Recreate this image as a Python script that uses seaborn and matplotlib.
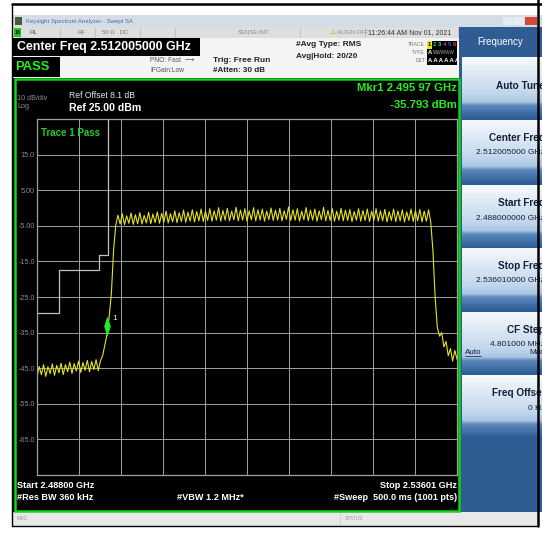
import numpy as np
import pandas as pd
import matplotlib
import matplotlib.pyplot as plt
from matplotlib.colors import LinearSegmentedColormap
from matplotlib.patches import Rectangle
from matplotlib.path import Path
import seaborn as sns

matplotlib.use('Agg')

# ===========================================================
# DATA
# ===========================================================
F_START, F_STOP = 2.48800, 2.53601      # GHz
REF_LEVEL, DB_DIV = 25.0, 10.0
Y_LABELS = ["15.0", "5.00", "-5.00", "-15.0", "-25.0", "-35.0", "-45.0", "-55.0", "-65.0"]

# trace 1 (dBm), sweep points evenly spaced from start to stop
lo_noise_db = [-47.5, -44.5, -46.8, -44.0, -47.3, -44.6, -46.5, -43.8, -47.0, -44.2,
               -46.3, -43.6, -46.8, -44.0, -46.0, -43.3, -46.5, -43.7, -45.8, -43.0,
               -46.2, -43.4, -45.6, -42.8, -46.0, -43.1, -45.4, -42.6, -45.7, -42.9]
rise_db = [-41.5, -38.5, -35.5, -30.5, -24.0, -12.0]
band_db = [-4.8, -2.0, -4.5, -1.6, -4.7, -2.2, -4.3, -1.4, -4.6, -1.9,
           -4.4, -1.3, -4.5, -2.1, -4.2, -1.2, -4.4, -1.7, -4.1, -1.1,
           -4.3, -1.5, -4.0, -0.9, -4.2, -1.6, -3.9, -0.8, -4.1, -1.3,
           -3.8, -0.6, -4.0, -1.2, -3.7, -0.5, -3.9, -1.0, -3.6, -0.3,
           -3.8, -0.9, -3.5, -0.2, -3.7, -0.8, -3.4, 0.1, -3.7, -0.7,
           -3.4, -0.1, -3.6, -0.9, -3.3, 0.2, -3.6, -0.6, -3.4, -0.2,
           -3.7, -0.8, -3.3, 0.1, -3.6, -0.5, -3.4, -0.3, -3.7, -0.9,
           -3.3, 0.0, -3.5, -0.6, -3.4, -0.1, -3.6, -0.8, -3.2, 0.3,
           -3.5, -0.5, -3.4, -0.2, -3.7, -0.9, -3.3, 0.1, -3.6, -0.6,
           -3.4, -0.3, -3.7, -0.8, -3.3, 0.2, -3.6, -0.7, -3.5, -0.2,
           -3.7, -0.9, -3.4, -0.1, -3.6, -0.6, -3.5, -0.4, -3.8, -1.0,
           -3.4, -0.2, -3.7, -0.7, -3.5, -0.3, -3.8, -0.9, -3.5, -0.2,
           -3.7, -0.8, -3.6, -0.4, -3.9, -1.0, -3.5, -0.3, -3.8, -0.8,
           -3.6, -0.5, -3.9, -1.1, -3.5, -0.3, -3.8, -0.7, -3.6, -0.4,
           -3.9, -0.9, -3.7, -0.5, -4.0]
fall_db = [-12.0, -25.0, -33.5, -36.0, -35.0, -39.0, -37.5, -41.5, -39.5, -43.0, -40.0, -42.5]

# limit line (stepped)
limit_ghz = [2.48800, 2.49050, 2.49509, 2.49608]
limit_db = [-29.5, -17.4, -13.3, 25.0]

# marker 1
mkr_ghz, mkr_db = 2.49597, -35.793

# softkey panel
softkeys = [("Auto Tune", ""), ("Center Freq", "2.512005000 GHz"), ("Start Freq", "2.488000000 GHz"),
            ("Stop Freq", "2.536010000 GHz"), ("CF Step", "4.801000 MHz"), ("Freq Offset", "0 Hz")]

# ===========================================================
# FIGURE
# ===========================================================
W, H = 542, 536
sns.set_theme(style="dark")
plt.rcParams['font.family'] = ['Liberation Sans', 'DejaVu Sans']

fig = plt.figure(figsize=(W / 100, H / 100), dpi=100)
fig.patch.set_facecolor('white')

bg = fig.add_axes([0, 0, 1, 1])
bg.set_xlim(0, W); bg.set_ylim(H, 0); bg.axis('off')


def rect(x0, y0, x1, y1, color, **kw):
    bg.add_patch(Rectangle((x0, y0), x1 - x0, y1 - y0, facecolor=color, edgecolor='none', **kw))


def txt(x, y, s, **kw):
    kw.setdefault('va', 'center')
    bg.text(x, y, s, **kw)


# title bar
rect(13, 15, 542, 27, '#d3dde8')
rect(15, 17, 22, 25, '#4a5a3a')
txt(26, 21, "Keysight Spectrum Analyzer - Swept SA", fontsize=4.3, color='#4f6b8f')
rect(503, 17, 513, 25, '#e6ecf2'); rect(514, 17, 524, 25, '#e6ecf2'); rect(525, 17, 537, 25, '#d9473a')

# status row
rect(13, 27, 460, 38, '#dedede')
for xs in [60, 95, 140, 175, 300, 365, 458]:
    bg.plot([xs, xs], [28, 37], color='#b5b5b5', lw=0.5)
rect(14, 28, 21, 37, '#1ec81e')
txt(15, 32.5, "1X", fontsize=3.5, color='black', fontweight='bold')
txt(29, 32.5, "RL", fontsize=4.5, color='#555555')
txt(78, 32.5, "RF", fontsize=4.3, color='#777777')
txt(102, 32.5, "50 Ω   DC", fontsize=4.3, color='#777777')
txt(238, 32.5, "SENSE:INT", fontsize=4.3, color='#888888')
txt(330, 32.5, "⚠", fontsize=5, color='#d8a000')
txt(337, 32.5, "ALIGN OFF", fontsize=4.3, color='#888888')
txt(368, 32.5, "11:26:44 AM Nov 01, 2021", fontsize=5.0, color='#333333')

# measurement header
rect(13, 38, 460, 78, '#f4f4f4')
rect(13, 38, 200, 56, 'black')
txt(17, 47, "Center Freq 2.512005000 GHz", fontsize=8.9, color='white', fontweight='bold')
rect(13, 57, 60, 77, 'black')
txt(15, 67, "PASS", fontsize=9.4, color='#22ee22', fontweight='bold')
txt(150, 61, "PNO: Fast  ⟶", fontsize=4.8, color='#555555')
txt(150, 71, "IFGain:Low", fontsize=4.8, color='#555555')
txt(213, 60, "Trig: Free Run", fontsize=6.0, color='#222222', fontweight='bold')
txt(213, 71, "#Atten: 30 dB", fontsize=5.8, color='#222222', fontweight='bold')
txt(296, 45, "#Avg Type: RMS", fontsize=6.0, color='#222222', fontweight='bold')
txt(296, 56, "Avg|Hold: 20/20", fontsize=5.9, color='#222222', fontweight='bold')
txt(425, 45, "TRACE", fontsize=3.6, color='#777777', ha='right')
txt(425, 53, "TYPE", fontsize=3.6, color='#777777', ha='right')
txt(425, 61, "DET", fontsize=3.6, color='#777777', ha='right')
rect(427, 41, 457, 65, 'black')
rect(427, 41, 432, 49, '#e8e820')
for k, c in enumerate(['black', '#22dd22', '#22dddd', '#dd22dd', '#2255ff', '#ff3333']):
    txt(428 + 5 * k, 45, str(k + 1), fontsize=4.2, color=c, fontweight='bold')
txt(428, 53, "A", fontsize=4.2, color='white', fontweight='bold')
txt(433, 53, "WWWWW", fontsize=3.3, color='#aaaaaa')
txt(428, 61, "A A A A A A", fontsize=4.2, color='white', fontweight='bold')

# softkey panel
rect(459, 27, 542, 512, '#2f5d93')
txt(500, 42, "Frequency", fontsize=7, color='white', ha='center')
key_cmap = LinearSegmentedColormap.from_list(
    'key', [(0.0, '#f6f9fc'), (0.2, '#e3edf6'), (0.6, '#c2d7eb'), (0.74, '#a9c5e2'),
            (0.8, '#5c89bd'), (1.0, '#30609a')])
grad = np.linspace(0, 1, 64).reshape(-1, 1)
key_y = [(57, 118), (120, 183), (185, 247), (248, 310), (312, 373), (375, 437)]
for (y0, y1), (name, val) in zip(key_y, softkeys):
    bg.imshow(grad, cmap=key_cmap, aspect='auto', extent=(462, 542, y1, y0), origin='upper', zorder=1)
    if val:
        txt(545, y0 + 18, name, fontsize=7.2, color='#14203a', fontweight='bold', ha='right', zorder=2)
        txt(545, y0 + 33, val, fontsize=6.0, color='#14203a', ha='right', zorder=2)
    else:
        txt(545, y0 + 29, name, fontsize=7.2, color='#14203a', fontweight='bold', ha='right', zorder=2)
txt(465, 352, "Auto", fontsize=5.8, color='#14203a', zorder=2)
bg.plot([465, 481], [356, 356], color='#14203a', lw=0.5, zorder=2)
txt(545, 352, "Man", fontsize=5.8, color='#14203a', ha='right', zorder=2)
bg.set_xlim(0, W); bg.set_ylim(H, 0)

# plot frame (green)
rect(13, 78, 460, 512, 'black')
bg.add_patch(Rectangle((14.5, 79), 444, 432, facecolor='none', edgecolor='#14d214', lw=1.8, zorder=3))

# message bar
rect(13, 512, 538, 526, '#e9e9e9')
txt(17, 519, "MSG", fontsize=3.5, color='#999999')
txt(345, 519, "STATUS", fontsize=3.5, color='#999999')
bg.plot([340, 340], [513, 525], color='#c8c8c8', lw=0.5)

# screenshot border
bg.plot([12, 542], [3.5, 3.5], color='black', lw=1.8, zorder=5)
bg.plot([538, 538], [0, 526], color='black', lw=1.8, zorder=5)
bg.plot([12, 12], [3.5, 526], color='black', lw=1.0, zorder=5)
bg.plot([12, 538], [526, 526], color='black', lw=1.0, zorder=5)

# annotations around the graticule
txt(17, 99, "10 dB/div", fontsize=5.2, color='#8c8c8c')
txt(17, 106, "Log", fontsize=5.2, color='#8c8c8c')
txt(69, 95, "Ref Offset 8.1 dB", fontsize=6.2, color='#e8e8e8')
txt(69, 108, "Ref 25.00 dBm", fontsize=7.6, color='white', fontweight='bold')
txt(457, 88, "Mkr1 2.495 97 GHz", fontsize=8.2, color='#22ee22', fontweight='bold', ha='right')
txt(457, 105, "-35.793 dBm", fontsize=8.2, color='#22ee22', fontweight='bold', ha='right')
txt(17, 485, "Start 2.48800 GHz", fontsize=6.6, color='white', fontweight='bold')
txt(457, 485, "Stop 2.53601 GHz", fontsize=6.6, color='white', fontweight='bold', ha='right')
txt(17, 498, "#Res BW 360 kHz", fontsize=6.6, color='white', fontweight='bold')
txt(177, 498, "#VBW 1.2 MHz*", fontsize=6.6, color='white', fontweight='bold')
txt(457, 498, "#Sweep  500.0 ms (1001 pts)", fontsize=6.6, color='white', fontweight='bold', ha='right')

# ===========================================================
# GRATICULE + TRACE
# ===========================================================
x0, y0, x1, y1 = 37, 119, 457, 475
ax = fig.add_axes([x0 / W, 1 - y1 / H, (x1 - x0) / W, (y1 - y0) / H])
ax.set_facecolor('black')

trace_db = lo_noise_db + rise_db + band_db + fall_db
df = pd.DataFrame({'freq': np.linspace(F_START, F_STOP, len(trace_db)), 'dbm': trace_db})

sns.lineplot(x=limit_ghz, y=limit_db, drawstyle='steps-post', color='#c0c0c0', lw=0.9,
             estimator=None, ax=ax)
sns.lineplot(data=df, x='freq', y='dbm', color='#e4e41c', lw=0.8, estimator=None, sort=False, ax=ax)

diamond = Path([(0, 0), (0.32, 1.0), (0, 2.0), (-0.32, 1.0), (0, 0)])
ax.plot([mkr_ghz], [mkr_db], marker=diamond, ms=26, color='#19f02a', mec='#19f02a', mew=0.5, zorder=5)
ax.annotate("1", (mkr_ghz, mkr_db), xytext=(4, 12), textcoords='offset points',
            color='#f2f2a0', fontsize=6, va='center')
ax.text(0.01, 0.975, "Trace 1 Pass", transform=ax.transAxes, color='#22cc22',
        fontsize=7, va='top', fontweight='bold')

ax.set_xlim(F_START, F_STOP)
ax.set_ylim(REF_LEVEL - 10 * DB_DIV, REF_LEVEL)
ax.set_xticks(np.linspace(F_START, F_STOP, 11))
ax.set_xticklabels([])
ax.set_yticks(np.arange(REF_LEVEL - 10 * DB_DIV, REF_LEVEL + 1, DB_DIV))
ax.set_yticklabels([""] + Y_LABELS[::-1] + [""])
ax.tick_params(axis='both', length=0, pad=1.5, labelsize=5.2, labelcolor='#8c8c8c')
ax.grid(True, color='#a0a0a0', lw=0.7)
ax.set_xlabel(''); ax.set_ylabel('')
for s in ax.spines.values():
    s.set_color('#a0a0a0'); s.set_linewidth(0.9); s.set_visible(True)

plt.savefig('out.png', dpi=100)
